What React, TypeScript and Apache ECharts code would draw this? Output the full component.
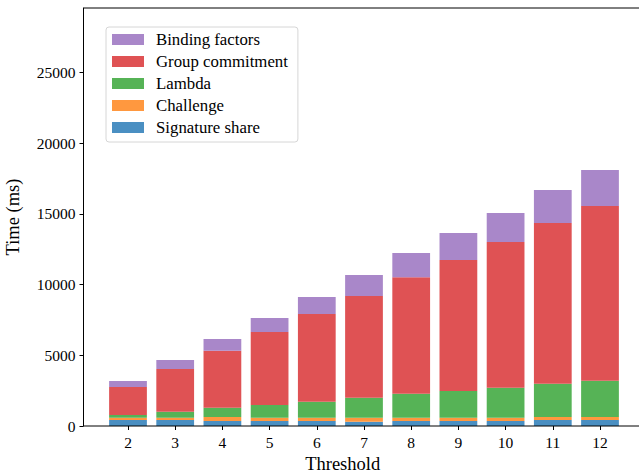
import React, { useEffect, useRef } from "react";
import * as echarts from "echarts";

const thresholds = ["2", "3", "4", "5", "6", "7", "8", "9", "10", "11", "12"];
const signatureShare = [425, 425, 354, 354, 354, 306, 354, 354, 354, 424, 424];
const challenge = [165, 165, 283, 236, 236, 283, 236, 236, 236, 212, 212];
const lambda = [190, 425, 660, 896, 1131, 1414, 1697, 1885, 2121, 2357, 2569];
const groupCommitment = [1980, 3020, 4030, 5160, 6200, 7190, 8225, 9262, 10300, 11360, 12350];
const bindingFactors = [424, 636, 827, 990, 1200, 1485, 1720, 1909, 2050, 2333, 2545];

const seriesDefs = [
  { name: "Signature share", data: signatureShare, color: "#4a8fc2" },
  { name: "Challenge", data: challenge, color: "#ff983f" },
  { name: "Lambda", data: lambda, color: "#56b356" },
  { name: "Group commitment", data: groupCommitment, color: "#df5254" },
  { name: "Binding factors", data: bindingFactors, color: "#a987c9" },
];

const FONT = "'Liberation Serif', 'DejaVu Serif', serif";

// axes frame (pixels)
const AX_L = 83.5;
const AX_R = 644.5;
const AX_T = 8;
const AX_B = 426;
const BAND = 47.2;
const GRID_L = 128 - BAND / 2;
const GRID_R = 600 + BAND / 2;

export default function App() {
  const ref = useRef<HTMLDivElement>(null);
  useEffect(() => {
    if (!ref.current) return;
    const chart = echarts.init(ref.current, undefined, { renderer: "svg" });
    chart.setOption({
      animation: false,
      grid: {
        left: GRID_L,
        right: 639 - GRID_R,
        top: AX_T,
        bottom: 476 - AX_B,
      },
      legend: {
        orient: "vertical",
        left: 106,
        top: 27,
        data: ["Binding factors", "Group commitment", "Lambda", "Challenge", "Signature share"],
        itemWidth: 32,
        itemHeight: 11,
        itemGap: 5,
        padding: [4, 10, 6, 6],
        borderColor: "#d6d6d6",
        borderWidth: 1,
        borderRadius: 3,
        backgroundColor: "#fff",
        icon: "rect",
        textStyle: {
          fontFamily: FONT,
          fontSize: 16.8,
          color: "#000",
          padding: [0, 0, 0, 7],
        },
      },
      xAxis: {
        type: "category",
        data: thresholds,
        boundaryGap: true,
        axisLine: { show: false },
        axisTick: {
          show: true,
          alignWithLabel: true,
          length: 4,
          lineStyle: { color: "#000" },
        },
        axisLabel: {
          fontFamily: FONT,
          fontSize: 15.5,
          color: "#000",
          margin: 8,
        },
      },
      yAxis: {
        type: "value",
        min: 0,
        max: 29550,
        interval: 5000,
        offset: GRID_L - AX_L,
        splitLine: { show: false },
        axisLine: { show: true, lineStyle: { color: "#000", width: 1 } },
        axisTick: { show: true, length: 4, lineStyle: { color: "#000" } },
        axisLabel: {
          fontFamily: FONT,
          fontSize: 15.5,
          color: "#000",
          margin: 8,
          formatter: (v: number) => String(v),
          showMaxLabel: false,
        },
      },
      graphic: [
        {
          type: "rect",
          shape: { x: AX_L, y: AX_T, width: AX_R - AX_L, height: AX_B - AX_T },
          style: { fill: "none", stroke: "#000", lineWidth: 1 },
          z: 10,
          silent: true,
        },
        {
          type: "text",
          x: 342.7,
          y: 464,
          style: {
            text: "Threshold",
            fontFamily: FONT,
            fontSize: 18.5,
            fill: "#000",
            align: "center",
            verticalAlign: "middle",
          },
        },
        {
          type: "text",
          x: 13,
          y: 217,
          rotation: Math.PI / 2,
          style: {
            text: "Time (ms)",
            fontFamily: FONT,
            fontSize: 18.5,
            fill: "#000",
            align: "center",
            verticalAlign: "middle",
          },
        },
      ],
      series: seriesDefs.map((s) => ({
        type: "bar",
        name: s.name,
        stack: "total",
        barWidth: "80%",
        itemStyle: { color: s.color },
        data: s.data,
      })),
    });
    return () => chart.dispose();
  }, []);
  return (
    <div
      ref={ref}
      style={{ position: "absolute", left: 0, top: 0, width: 639, height: 476 }}
    />
  );
}
